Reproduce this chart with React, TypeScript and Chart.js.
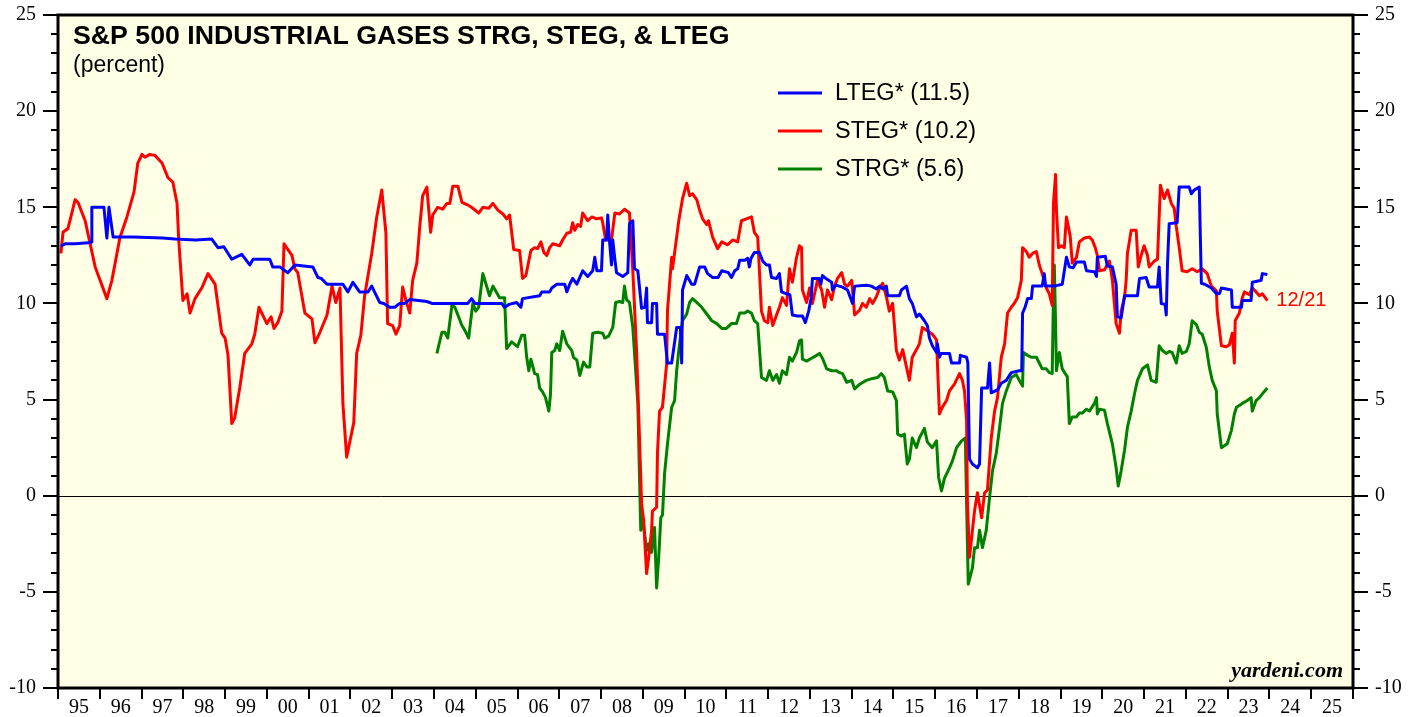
import React, { useEffect, useRef } from 'react';
import { Chart, registerables } from 'chart.js';

Chart.register(...registerables);

// ---------- DATA ----------
const LTEG_X = [
  1995.07, 1995.17, 1995.41, 1995.72, 1995.80, 1995.81, 1996.10, 1996.17, 1996.22, 1996.32, 1996.80, 1997.50, 1997.80,
  1998.30, 1998.68, 1998.83, 1998.97, 1999.16, 1999.40, 1999.59, 1999.67, 2000.07, 2000.14, 2000.31, 2000.50, 2000.67,
  2001.10, 2001.22, 2001.30, 2001.44, 2001.82, 2001.94, 2002.06, 2002.22, 2002.42, 2002.51, 2002.70, 2002.80, 2002.94,
  2003.06, 2003.18, 2003.30, 2003.42, 2003.83, 2003.95, 2004.81, 2004.90, 2004.98, 2005.62, 2005.69, 2005.80, 2005.98,
  2006.08, 2006.12, 2006.53, 2006.58, 2006.77, 2006.82, 2006.94, 2007.13, 2007.18, 2007.25, 2007.32, 2007.42, 2007.49,
  2007.56, 2007.68, 2007.80, 2007.85, 2007.90, 2008.01, 2008.04, 2008.13, 2008.16, 2008.20, 2008.25, 2008.28, 2008.33,
  2008.37, 2008.52, 2008.64, 2008.68, 2008.76, 2008.80, 2008.88, 2008.97, 2009.05, 2009.09, 2009.11, 2009.21, 2009.23,
  2009.33, 2009.35, 2009.52, 2009.59, 2009.69, 2009.81, 2009.90, 2009.93, 2009.95, 2010.05, 2010.17, 2010.24, 2010.36,
  2010.48, 2010.55, 2010.67, 2010.80, 2010.89, 2011.05, 2011.12, 2011.20, 2011.27, 2011.32, 2011.44, 2011.51, 2011.55,
  2011.59, 2011.67, 2011.79, 2011.87, 2011.96, 2012.03, 2012.08, 2012.20, 2012.27, 2012.32, 2012.44, 2012.52, 2012.58,
  2012.70, 2012.82, 2012.89, 2012.97, 2013.03, 2013.06, 2013.22, 2013.26, 2013.30, 2013.38, 2013.52, 2013.54, 2013.62,
  2013.78, 2013.90, 2014.02, 2014.07, 2014.35, 2014.47, 2014.59, 2014.67, 2014.75, 2014.83, 2014.86, 2015.14, 2015.19,
  2015.31, 2015.38, 2015.45, 2015.55, 2015.62, 2015.74, 2015.81, 2015.86, 2015.93, 2016.03, 2016.05, 2016.10, 2016.14,
  2016.34, 2016.39, 2016.58, 2016.60, 2016.75, 2016.78, 2016.82, 2016.89, 2017.01, 2017.06, 2017.11, 2017.25, 2017.30,
  2017.34, 2017.49, 2017.58, 2017.70, 2017.82, 2018.01, 2018.07, 2018.09, 2018.15, 2018.21, 2018.30, 2018.33, 2018.56,
  2018.61, 2018.64, 2018.85, 2019.04, 2019.09, 2019.14, 2019.21, 2019.30, 2019.38, 2019.57, 2019.62, 2019.81, 2019.86,
  2019.88, 2020.07, 2020.12, 2020.24, 2020.33, 2020.36, 2020.45, 2020.53, 2020.84, 2020.89, 2021.05, 2021.12, 2021.32,
  2021.36, 2021.41, 2021.50, 2021.53, 2021.56, 2021.60, 2021.79, 2021.84, 2022.08, 2022.13, 2022.20, 2022.32, 2022.37,
  2022.45, 2022.61, 2022.73, 2022.80, 2022.85, 2023.09, 2023.11, 2023.33, 2023.35, 2023.56, 2023.59, 2023.70, 2023.80,
  2023.83, 2023.95,
];
const LTEG_Y = [
  12.97, 13.1, 13.1, 13.15, 13.2, 15.0, 15.0, 13.4, 15.0, 13.45, 13.45, 13.4, 13.35,
  13.3, 13.35, 12.9, 12.95, 12.3, 12.55, 12.0, 12.3, 12.3, 11.9, 11.9, 11.6, 12.0,
  11.9, 11.35, 11.3, 11.0, 11.0, 10.6, 11.1, 10.6, 10.6, 10.9, 10.05, 10.0, 9.8,
  9.8, 10.0, 10.0, 10.2, 10.1, 10.0, 10.0, 10.25, 10.0, 10.0, 9.8, 9.95, 10.05,
  9.8, 10.25, 10.4, 10.6, 10.6, 10.8, 11.0, 11.0, 10.6, 11.0, 11.3, 11.0, 11.35,
  11.7, 11.4, 11.7, 12.4, 11.7, 11.7, 13.3, 13.3, 14.6, 13.3, 12.0, 13.3, 12.3,
  11.6, 11.4, 11.6, 14.15, 14.3, 11.8, 11.7, 9.75, 9.8, 10.8, 9.0, 9.0, 10.0,
  10.0, 8.4, 8.4, 6.9, 6.9, 8.75, 8.75, 6.9, 10.7, 11.45, 11.0, 11.0, 11.9,
  11.9, 11.55, 11.35, 11.35, 11.7, 11.6, 11.35, 11.7, 11.8, 12.25, 12.25, 12.35, 11.9,
  12.35, 12.65, 12.65, 12.2, 12.0, 12.0, 11.35, 11.3, 11.55, 10.6, 10.5, 10.45, 9.4,
  9.35, 9.35, 9.0, 9.6, 10.3, 11.3, 11.3, 11.0, 11.45, 11.3, 11.1, 10.7, 10.95,
  10.85, 10.7, 10.0, 10.9, 10.95, 10.9, 10.75, 10.9, 10.75, 10.9, 10.4, 10.4, 10.7,
  10.9, 10.25, 10.0, 9.3, 9.45, 9.1, 8.85, 8.2, 7.8, 7.45, 7.9, 7.2, 7.4,
  7.4, 6.9, 6.9, 7.3, 7.2, 6.9, 1.9, 1.65, 1.45, 1.65, 5.6, 5.6, 6.9,
  5.35, 5.5, 5.85, 6.0, 6.4, 6.5, 6.5, 9.5, 9.8, 10.25, 10.25, 10.9, 10.9,
  11.55, 10.9, 10.9, 11.0, 11.7, 12.4, 11.9, 11.85, 12.15, 12.15, 11.7, 11.65, 11.4,
  12.4, 12.45, 11.95, 11.9, 11.0, 9.3, 9.25, 10.4, 10.4, 11.3, 11.35, 10.85, 10.85,
  11.9, 10.0, 9.95, 9.4, 12.1, 14.15, 14.2, 16.05, 16.05, 15.7, 15.9, 16.05, 11.05,
  11.0, 10.8, 10.5, 10.5, 10.8, 10.7, 9.8, 9.8, 10.15, 10.15, 11.1, 11.15, 11.2,
  11.55, 11.5,
];

const STEG_X = [
  1995.07, 1995.12, 1995.24, 1995.41, 1995.48, 1995.65, 1995.77, 1995.89, 1996.17, 1996.29, 1996.48, 1996.65, 1996.82,
  1996.91, 1997.01, 1997.08, 1997.20, 1997.32, 1997.49, 1997.63, 1997.75, 1997.85, 1997.89, 1997.99, 1998.09, 1998.16,
  1998.28, 1998.44, 1998.59, 1998.76, 1998.92, 1999.00, 1999.07, 1999.16, 1999.23, 1999.35, 1999.47, 1999.64, 1999.71,
  1999.81, 2000.00, 2000.10, 2000.17, 2000.26, 2000.36, 2000.41, 2000.60, 2000.67, 2000.74, 2000.91, 2001.08, 2001.15,
  2001.27, 2001.44, 2001.56, 2001.65, 2001.75, 2001.82, 2001.91, 2002.08, 2002.15, 2002.25, 2002.34, 2002.51, 2002.63,
  2002.75, 2002.85, 2002.89, 2003.01, 2003.09, 2003.18, 2003.25, 2003.33, 2003.42, 2003.49, 2003.59, 2003.66, 2003.73,
  2003.83, 2003.92, 2003.97, 2004.09, 2004.21, 2004.31, 2004.38, 2004.45, 2004.57, 2004.62, 2004.67, 2004.83, 2004.93,
  2005.07, 2005.17, 2005.31, 2005.41, 2005.53, 2005.65, 2005.74, 2005.81, 2005.91, 2006.05, 2006.12, 2006.20, 2006.32,
  2006.41, 2006.48, 2006.56, 2006.63, 2006.70, 2006.77, 2006.84, 2007.01, 2007.08, 2007.18, 2007.27, 2007.32, 2007.37,
  2007.44, 2007.51, 2007.56, 2007.68, 2007.78, 2007.89, 2008.01, 2008.04, 2008.11, 2008.25, 2008.33, 2008.44, 2008.56,
  2008.68, 2008.76, 2008.85, 2008.92, 2008.97, 2009.02, 2009.09, 2009.14, 2009.21, 2009.23, 2009.33, 2009.35, 2009.40,
  2009.47, 2009.57, 2009.59, 2009.69, 2009.71, 2009.81, 2009.86, 2009.95, 2010.05, 2010.12, 2010.19, 2010.29, 2010.36,
  2010.43, 2010.53, 2010.57, 2010.67, 2010.79, 2010.89, 2011.03, 2011.15, 2011.27, 2011.36, 2011.48, 2011.60, 2011.67,
  2011.75, 2011.84, 2011.91, 2011.99, 2012.03, 2012.11, 2012.20, 2012.27, 2012.34, 2012.44, 2012.51, 2012.58, 2012.68,
  2012.75, 2012.80, 2012.82, 2012.92, 2012.99, 2013.06, 2013.18, 2013.28, 2013.35, 2013.42, 2013.52, 2013.59, 2013.66,
  2013.76, 2013.83, 2013.90, 2014.00, 2014.07, 2014.19, 2014.26, 2014.35, 2014.43, 2014.50, 2014.59, 2014.67, 2014.74,
  2014.83, 2014.90, 2014.98, 2015.07, 2015.14, 2015.22, 2015.31, 2015.38, 2015.45, 2015.55, 2015.62, 2015.69, 2015.79,
  2015.86, 2015.93, 2016.03, 2016.10, 2016.17, 2016.27, 2016.34, 2016.46, 2016.58, 2016.65, 2016.70, 2016.75, 2016.77,
  2016.82, 2016.89, 2016.94, 2017.01, 2017.11, 2017.18, 2017.25, 2017.34, 2017.42, 2017.49, 2017.58, 2017.66, 2017.73,
  2017.82, 2017.89, 2017.97, 2018.06, 2018.09, 2018.18, 2018.25, 2018.33, 2018.42, 2018.49, 2018.56, 2018.66, 2018.73,
  2018.80, 2018.83, 2018.88, 2018.90, 2018.95, 2019.02, 2019.09, 2019.14, 2019.23, 2019.28, 2019.38, 2019.45, 2019.57,
  2019.69, 2019.76, 2019.83, 2019.88, 2019.93, 2020.05, 2020.17, 2020.24, 2020.33, 2020.41, 2020.45, 2020.53, 2020.57,
  2020.60, 2020.69, 2020.81, 2020.86, 2020.93, 2021.00, 2021.08, 2021.12, 2021.24, 2021.32, 2021.39, 2021.48, 2021.56,
  2021.65, 2021.72, 2021.77, 2021.84, 2021.91, 2022.03, 2022.15, 2022.27, 2022.39, 2022.51, 2022.61, 2022.73, 2022.75,
  2022.85, 2022.97, 2023.04, 2023.11, 2023.16, 2023.18, 2023.28, 2023.35, 2023.40, 2023.52, 2023.59, 2023.68, 2023.76,
  2023.83, 2023.88, 2023.95,
];
const STEG_Y = [
  12.6, 13.7, 13.9, 15.4, 15.25, 14.3, 13.1, 11.9, 10.25, 11.2, 13.4, 14.5, 15.8,
  17.3, 17.75, 17.6, 17.75, 17.7, 17.3, 16.55, 16.3, 15.2, 13.3, 10.15, 10.5, 9.5,
  10.25, 10.8, 11.55, 11.0, 8.45, 8.2, 7.3, 3.75, 4.05, 5.6, 7.4, 7.9, 8.4,
  9.8, 8.95, 9.3, 8.7, 9.0, 9.6, 13.1, 12.5, 11.8, 11.6, 9.5, 9.2, 7.95,
  8.5, 9.4, 10.9, 10.05, 10.8, 4.8, 2.0, 3.8, 7.4, 8.35, 10.4, 12.6, 14.5,
  15.9, 13.65, 8.95, 8.85, 8.4, 8.85, 10.85, 10.15, 9.5, 11.2, 12.1, 14.0, 15.6,
  16.05, 13.7, 14.6, 15.0, 14.9, 15.2, 15.2, 16.1, 16.1, 15.7, 15.25, 15.1, 14.95,
  14.7, 15.0, 14.95, 15.2, 14.85, 14.65, 14.4, 14.6, 12.8, 12.75, 11.3, 11.45, 12.75,
  12.9, 12.85, 13.2, 12.65, 12.5, 12.9, 13.1, 13.0, 13.3, 13.65, 13.7, 14.2, 13.8,
  14.1, 14.0, 14.7, 14.3, 14.5, 14.4, 14.45, 14.2, 13.3, 13.3, 14.7, 14.65, 14.9,
  14.7, 11.7, 7.55, 3.0, -0.4, -1.3, -4.05, -3.2, -1.8, -0.8, -0.6, 2.2, 4.4,
  4.6, 6.85, 9.6, 12.4, 11.8, 13.45, 14.3, 15.45, 16.25, 15.6, 15.7, 15.4, 14.85,
  14.4, 14.1, 14.3, 13.45, 12.85, 13.2, 13.05, 13.3, 13.2, 14.3, 14.4, 14.5, 13.7,
  13.45, 9.6, 9.1, 9.0, 9.8, 8.85, 9.4, 9.8, 10.3, 9.9, 11.8, 11.1, 12.4,
  13.0, 12.9, 10.7, 10.05, 10.8, 10.0, 11.2, 10.7, 9.8, 10.7, 10.2, 10.9, 11.3,
  11.6, 11.0, 10.9, 11.2, 9.4, 9.65, 10.0, 9.8, 10.25, 10.0, 10.35, 10.8, 11.05,
  10.35, 9.6, 10.0, 7.55, 7.05, 7.6, 6.7, 6.0, 7.2, 7.6, 7.9, 8.75, 8.6,
  8.5, 8.4, 8.1, 4.25, 4.6, 4.95, 5.45, 5.8, 6.35, 6.0, 5.45, 3.9, -0.4,
  -3.2, -1.8, -0.8, 0.15, -1.15, 0.15, 0.3, 3.0, 4.4, 5.1, 7.2, 7.9, 9.5,
  9.8, 10.0, 10.3, 11.2, 12.9, 12.7, 12.4, 12.6, 12.7, 12.0, 11.55, 10.8, 10.5,
  9.9, 15.2, 16.7, 14.9, 12.9, 13.0, 12.9, 14.5, 13.5, 12.1, 12.4, 13.2, 13.4,
  13.45, 13.3, 12.9, 12.5, 11.7, 11.75, 12.2, 11.2, 8.95, 8.45, 9.6, 10.3, 11.2,
  12.6, 13.8, 13.8, 11.9, 12.5, 13.0, 12.5, 11.9, 12.2, 12.3, 16.15, 15.45, 15.9,
  15.2, 14.95, 14.0, 12.9, 11.7, 11.65, 11.8, 11.65, 11.8, 11.55, 10.9, 10.65, 9.6,
  7.8, 7.75, 7.85, 8.45, 6.9, 9.1, 9.5, 10.3, 10.6, 10.45, 10.8, 10.6, 10.4,
  10.5, 10.35, 10.15,
];

const STRG_X = [
  2004.07, 2004.19, 2004.26, 2004.33, 2004.43, 2004.50, 2004.67, 2004.74, 2004.83, 2004.93, 2005.00, 2005.07, 2005.17,
  2005.33, 2005.41, 2005.57, 2005.69, 2005.74, 2005.86, 2006.00, 2006.10, 2006.17, 2006.22, 2006.27, 2006.32, 2006.41,
  2006.48, 2006.53, 2006.60, 2006.67, 2006.75, 2006.79, 2006.82, 2006.89, 2006.94, 2007.01, 2007.08, 2007.18, 2007.30,
  2007.34, 2007.42, 2007.49, 2007.58, 2007.66, 2007.73, 2007.80, 2007.92, 2008.04, 2008.09, 2008.18, 2008.28, 2008.35,
  2008.44, 2008.52, 2008.56, 2008.61, 2008.68, 2008.76, 2008.88, 2008.95, 2009.00, 2009.09, 2009.14, 2009.21, 2009.28,
  2009.33, 2009.38, 2009.43, 2009.47, 2009.52, 2009.59, 2009.69, 2009.76, 2009.81, 2009.86, 2009.95, 2010.05, 2010.12,
  2010.19, 2010.29, 2010.41, 2010.53, 2010.65, 2010.77, 2010.89, 2011.00, 2011.12, 2011.24, 2011.32, 2011.44, 2011.51,
  2011.60, 2011.67, 2011.75, 2011.84, 2011.96, 2012.03, 2012.11, 2012.20, 2012.27, 2012.34, 2012.44, 2012.51, 2012.58,
  2012.68, 2012.75, 2012.80, 2012.82, 2012.92, 2013.04, 2013.16, 2013.23, 2013.30, 2013.40, 2013.52, 2013.64, 2013.71,
  2013.78, 2013.88, 2014.00, 2014.07, 2014.19, 2014.35, 2014.50, 2014.62, 2014.71, 2014.78, 2014.86, 2014.98, 2015.07,
  2015.10, 2015.19, 2015.26, 2015.33, 2015.38, 2015.45, 2015.55, 2015.62, 2015.74, 2015.81, 2015.93, 2016.03, 2016.08,
  2016.15, 2016.22, 2016.34, 2016.41, 2016.51, 2016.63, 2016.72, 2016.75, 2016.79, 2016.89, 2016.94, 2017.01, 2017.06,
  2017.13, 2017.22, 2017.30, 2017.37, 2017.46, 2017.54, 2017.61, 2017.70, 2017.82, 2017.94, 2018.01, 2018.09, 2018.11,
  2018.21, 2018.30, 2018.42, 2018.49, 2018.56, 2018.66, 2018.73, 2018.80, 2018.83, 2018.85, 2018.88, 2018.90, 2018.97,
  2019.04, 2019.11, 2019.16, 2019.21, 2019.28, 2019.38, 2019.45, 2019.52, 2019.62, 2019.69, 2019.81, 2019.86, 2019.88,
  2019.93, 2020.05, 2020.12, 2020.24, 2020.33, 2020.38, 2020.45, 2020.53, 2020.60, 2020.69, 2020.77, 2020.84, 2020.96,
  2021.08, 2021.17, 2021.29, 2021.36, 2021.44, 2021.53, 2021.60, 2021.67, 2021.77, 2021.84, 2021.91, 2022.01, 2022.08,
  2022.15, 2022.25, 2022.32, 2022.39, 2022.49, 2022.56, 2022.63, 2022.73, 2022.75, 2022.85, 2022.92, 2022.99, 2023.09,
  2023.16, 2023.21, 2023.35, 2023.47, 2023.56, 2023.59, 2023.68, 2023.76, 2023.83, 2023.95,
];
const STRG_Y = [
  7.4, 8.5, 8.5, 8.2, 9.9, 9.8, 8.85, 8.6, 8.2, 10.0, 9.6, 9.8, 11.55,
  10.4, 10.9, 10.3, 10.3, 7.65, 8.0, 7.75, 8.35, 8.35, 7.2, 6.5, 7.1, 6.35,
  6.3, 5.6, 5.4, 5.1, 4.4, 5.3, 7.45, 7.55, 7.9, 7.55, 8.55, 7.9, 7.55,
  7.2, 7.05, 6.25, 6.95, 6.7, 6.7, 8.45, 8.5, 8.45, 8.2, 8.3, 8.75, 10.05,
  10.1, 10.05, 10.9, 10.2, 10.05, 8.75, 4.8, -1.8, -1.2, -2.85, -2.5, -2.95, -1.65,
  -4.8, -3.2, -1.15, -1.0, 1.15, 2.7, 4.6, 4.95, 6.5, 7.55, 9.1, 9.45, 10.05,
  10.25, 10.05, 9.8, 9.45, 9.1, 8.95, 8.7, 8.7, 8.95, 8.95, 9.5, 9.5, 9.6,
  9.5, 9.1, 8.95, 6.15, 6.0, 6.5, 6.0, 6.3, 5.85, 6.5, 6.3, 7.2, 7.0,
  7.45, 8.05, 8.1, 7.1, 7.0, 7.15, 7.3, 7.4, 7.15, 6.6, 6.5, 6.5, 6.4,
  6.35, 5.9, 6.0, 5.55, 5.8, 6.0, 6.1, 6.15, 6.35, 6.15, 5.45, 5.4, 4.95,
  3.2, 3.1, 3.2, 1.65, 1.9, 3.0, 2.5, 3.0, 3.5, 2.8, 2.5, 2.85, 0.95,
  0.25, 0.9, 1.45, 1.8, 2.5, 2.85, 3.0, -0.4, -4.6, -3.75, -2.7, -2.7, -1.8,
  -2.7, -1.8, -0.1, 1.3, 2.2, 3.55, 4.8, 5.45, 6.15, 6.3, 6.0, 5.7, 7.45,
  7.3, 7.2, 7.2, 6.9, 6.6, 6.6, 6.4, 6.35, 10.5, 12.0, 9.0, 6.5, 7.45,
  6.6, 6.35, 6.2, 3.75, 4.1, 4.1, 4.3, 4.3, 4.5, 4.4, 4.8, 5.1, 4.25,
  4.5, 4.45, 3.75, 2.7, 1.45, 0.5, 1.3, 2.35, 3.55, 4.4, 5.3, 6.0, 6.6,
  6.8, 6.0, 5.9, 7.8, 7.55, 7.4, 7.5, 7.45, 6.9, 7.8, 7.4, 7.5, 7.9,
  9.1, 8.9, 8.5, 8.4, 7.7, 6.7, 6.0, 5.45, 4.25, 2.5, 2.6, 2.7, 3.4,
  4.25, 4.6, 4.8, 4.95, 5.1, 4.4, 4.95, 5.1, 5.3, 5.6,
];

const LABEL_YEARS = [
  1995, 1996, 1997, 1998, 1999, 2000, 2001, 2002, 2003, 2004, 2005, 2006, 2007, 2008, 2009, 2010,
  2011, 2012, 2013, 2014, 2015, 2016, 2017, 2018, 2019, 2020, 2021, 2022, 2023, 2024, 2025,
];
const X_MIN = 1995;
const X_MAX = 2026;
const Y_MIN = -10;
const Y_MAX = 25;

const TITLE = 'S&P 500 INDUSTRIAL GASES STRG, STEG, & LTEG';
const SUBTITLE = '(percent)';
const SERIES_NAMES = ['LTEG* (11.5)', 'STEG* (10.2)', 'STRG* (5.6)'];
const SERIES_COLORS = ['#0000ff', '#ff0000', '#008000'];
const LAST_DATE_LABEL = '12/21';
const SOURCE = 'yardeni.com';

const zip = (xs: number[], ys: number[]) => xs.map((x, i) => ({ x, y: ys[i] }));

const SANS = '"Liberation Sans", Arial, sans-serif';
const SERIF = '"Liberation Serif", "Times New Roman", serif';

const decorPlugin = {
  id: 'decor',
  beforeDraw(chart: any) {
    const { ctx, chartArea: a } = chart;
    ctx.save();
    ctx.fillStyle = '#ffffff';
    ctx.fillRect(0, 0, chart.width, chart.height);
    ctx.fillStyle = '#ffffe6';
    ctx.fillRect(a.left, a.top, a.right - a.left, a.bottom - a.top);
    ctx.restore();
  },
  beforeDatasetsDraw(chart: any) {
    const { ctx, chartArea: a, scales } = chart;
    const y0 = Math.round(scales.y.getPixelForValue(0)) + 0.5;
    ctx.save();
    ctx.strokeStyle = '#000';
    ctx.lineWidth = 1;
    ctx.beginPath();
    ctx.moveTo(a.left, y0);
    ctx.lineTo(a.right, y0);
    ctx.stroke();
    ctx.restore();
  },
  afterDraw(chart: any) {
    const { ctx, chartArea: a, scales } = chart;
    const ys = scales.y;
    const xs = scales.x;
    ctx.save();
    // frame
    ctx.strokeStyle = '#000';
    ctx.lineWidth = 3;
    ctx.strokeRect(a.left, a.top, a.right - a.left, a.bottom - a.top);
    // y tick marks (left and right)
    ctx.lineWidth = 2;
    for (let v = Y_MIN; v <= Y_MAX; v++) {
      const y = Math.round(ys.getPixelForValue(v));
      const major = v % 5 === 0;
      const len = major ? 15 : 7;
      ctx.beginPath();
      ctx.moveTo(a.left - len, y);
      ctx.lineTo(a.left, y);
      ctx.moveTo(a.right, y);
      ctx.lineTo(a.right + len, y);
      ctx.stroke();
    }
    // x tick marks at year boundaries
    for (let yr = X_MIN; yr <= X_MAX; yr++) {
      const x = Math.round(xs.getPixelForValue(yr));
      ctx.beginPath();
      ctx.moveTo(x, a.bottom);
      ctx.lineTo(x, a.bottom + 11);
      ctx.stroke();
    }
    // title
    ctx.fillStyle = '#000';
    ctx.textAlign = 'left';
    ctx.textBaseline = 'alphabetic';
    ctx.font = `bold 26.7px ${SANS}`;
    ctx.fillText(TITLE, a.left + 15, a.top + 29);
    ctx.font = `23px ${SANS}`;
    ctx.fillText(SUBTITLE, a.left + 15, a.top + 57);
    // legend
    const lx = 778;
    SERIES_NAMES.forEach((name, i) => {
      const ly = 93 + i * 38;
      ctx.strokeStyle = SERIES_COLORS[i];
      ctx.lineWidth = 3;
      ctx.beginPath();
      ctx.moveTo(lx, ly);
      ctx.lineTo(lx + 44, ly);
      ctx.stroke();
      ctx.fillStyle = '#000';
      ctx.font = `23.5px ${SANS}`;
      ctx.textBaseline = 'middle';
      ctx.fillText(name, lx + 57, ly + 1);
    });
    // last date label
    const lastX = STEG_X[STEG_X.length - 1];
    const lastY = STEG_Y[STEG_Y.length - 1];
    ctx.fillStyle = '#ff0000';
    ctx.font = `20px ${SANS}`;
    ctx.textBaseline = 'middle';
    ctx.fillText(LAST_DATE_LABEL, xs.getPixelForValue(lastX) + 9, ys.getPixelForValue(lastY));
    // source
    ctx.fillStyle = '#000';
    ctx.font = `italic bold 22px ${SERIF}`;
    ctx.textAlign = 'right';
    ctx.textBaseline = 'alphabetic';
    ctx.fillText(SOURCE, a.right - 10, a.bottom - 11);
    ctx.restore();
  },
};

const fitY = (width: number) => (s: any) => {
  s.width = width;
  s.paddingTop = 0;
  s.paddingBottom = 0;
};

export default function App() {
  const ref = useRef<HTMLCanvasElement | null>(null);
  useEffect(() => {
    if (!ref.current) return;
    const tickFont = { family: SERIF, size: 20 };
    const chart = new Chart(ref.current, {
      type: 'line',
      data: {
        datasets: [
          { label: SERIES_NAMES[0], data: zip(LTEG_X, LTEG_Y), borderColor: SERIES_COLORS[0], yAxisID: 'y' },
          { label: SERIES_NAMES[1], data: zip(STEG_X, STEG_Y), borderColor: SERIES_COLORS[1], yAxisID: 'y' },
          { label: SERIES_NAMES[2], data: zip(STRG_X, STRG_Y), borderColor: SERIES_COLORS[2], yAxisID: 'y' },
        ].map((d) => ({ ...d, borderWidth: 3, pointRadius: 0, tension: 0, fill: false, borderJoinStyle: 'round' as const })),
      },
      options: {
        animation: false,
        responsive: false,
        devicePixelRatio: 1,
        layout: { padding: { top: 15, left: 0, right: 0, bottom: 0 } },
        plugins: { legend: { display: false }, tooltip: { enabled: false } },
        scales: {
          x: {
            type: 'linear',
            min: X_MIN,
            max: X_MAX,
            grid: { display: false, drawTicks: false },
            border: { display: false },
            afterBuildTicks: (s: any) => {
              s.ticks = LABEL_YEARS.map((y) => ({ value: y + 0.5 }));
            },
            afterFit: (s: any) => {
              s.height = 29;
              s.paddingLeft = 0;
              s.paddingRight = 0;
            },
            ticks: {
              autoSkip: false,
              maxRotation: 0,
              padding: 8,
              color: '#000',
              font: tickFont,
              callback: (v: any) => String(Math.floor(Number(v)) % 100).padStart(2, '0'),
            },
          },
          y: {
            type: 'linear',
            position: 'left',
            min: Y_MIN,
            max: Y_MAX,
            grid: { display: false, drawTicks: false },
            border: { display: false },
            afterFit: fitY(58),
            ticks: { stepSize: 5, padding: 22, color: '#000', font: tickFont },
          },
          y2: {
            type: 'linear',
            position: 'right',
            min: Y_MIN,
            max: Y_MAX,
            grid: { display: false, drawTicks: false },
            border: { display: false },
            afterFit: fitY(66),
            ticks: { stepSize: 5, padding: 22, color: '#000', font: tickFont },
          },
        },
      },
      plugins: [decorPlugin],
    } as any);
    return () => chart.destroy();
  }, []);
  return (
    <div style={{ position: 'fixed', left: 0, top: 0, width: 1419, height: 717, background: '#fff' }}>
      <canvas ref={ref} width={1419} height={717} style={{ display: 'block', width: 1419, height: 717 }} />
    </div>
  );
}
